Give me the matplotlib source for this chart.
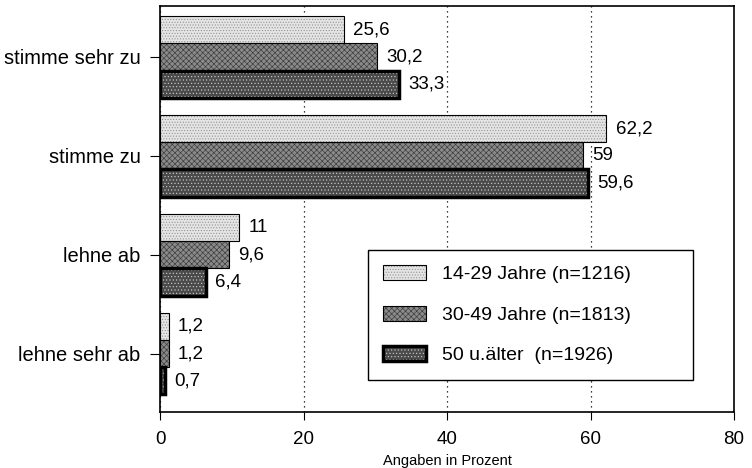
import numpy as np
import matplotlib
matplotlib.use('Agg')
import matplotlib.pyplot as plt

plt.rcParams['font.family'] = ['Liberation Sans', 'DejaVu Sans']
plt.rcParams['hatch.linewidth'] = 0.45

categories = ['stimme sehr zu', 'stimme zu', 'lehne ab', 'lehne sehr ab']
series = ['14-29 Jahre (n=1216)', '30-49 Jahre (n=1813)', '50 u.älter  (n=1926)']
vals_young = [25.6, 62.2, 11, 1.2]
vals_mid = [30.2, 59, 9.6, 1.2]
vals_old = [33.3, 59.6, 6.4, 0.7]

faces = ['#e4e4e4', '#8a8a8a', '#4a4a4a']
hatches = ['......', 'xxxxxx', '.....']
hatch_cols = ['#8f8f8f', '#3a3a3a', '#c8c8c8']
edge_lw = [0.8, 0.8, 2.5]

fig = plt.figure(figsize=(7.52, 4.68), dpi=100)
ax = fig.add_axes([0.2128, 0.1197, 0.7633, 0.8675])

n = len(categories)
pos = np.arange(n)[::-1]  # top category at top
h = 0.275
handles = []
for i, vals in enumerate([vals_young, vals_mid, vals_old]):
    y = pos + (1 - i) * h
    b1 = ax.barh(y, vals, height=h, color=faces[i], hatch=hatches[i],
                 edgecolor=hatch_cols[i], linewidth=0, zorder=2)
    b2 = ax.barh(y, vals, height=h, fill=False, edgecolor='black',
                 linewidth=edge_lw[i], zorder=3)
    handles.append((b1, b2))
    for yy, v in zip(y, vals):
        txt = ('%g' % v).replace('.', ',')
        ax.text(v + 1.3, yy, txt, va='center', ha='left', fontsize=13.5)

ax.set_xlim(0, 80)
ax.set_ylim(-0.59, 3.515)
ax.set_xticks([0, 20, 40, 60, 80])
ax.set_yticks(pos)
ax.set_yticklabels(categories, fontsize=14.5)
ax.tick_params(axis='x', labelsize=13.5, direction='out', length=6, pad=8)
ax.tick_params(axis='y', direction='out', length=7, pad=7)
ax.xaxis.grid(True, linestyle=(0, (1, 3)), color='black', linewidth=0.9, zorder=0)
ax.set_axisbelow(True)
for s in ax.spines.values():
    s.set_linewidth(1.2)
ax.set_xlabel('Angaben in Prozent', fontsize=10.5, labelpad=4)

leg = ax.legend(handles, series, loc='upper left',
                bbox_to_anchor=(0.362, 0.08, 0.566, 0.32), mode='expand',
                fontsize=14, fancybox=False, edgecolor='black', framealpha=1,
                handlelength=2.2, handleheight=0.8, labelspacing=1.15,
                borderpad=0.8, handletextpad=0.8, borderaxespad=0)
leg.get_frame().set_linewidth(1.0)

fig.savefig('out.png', dpi=100)
